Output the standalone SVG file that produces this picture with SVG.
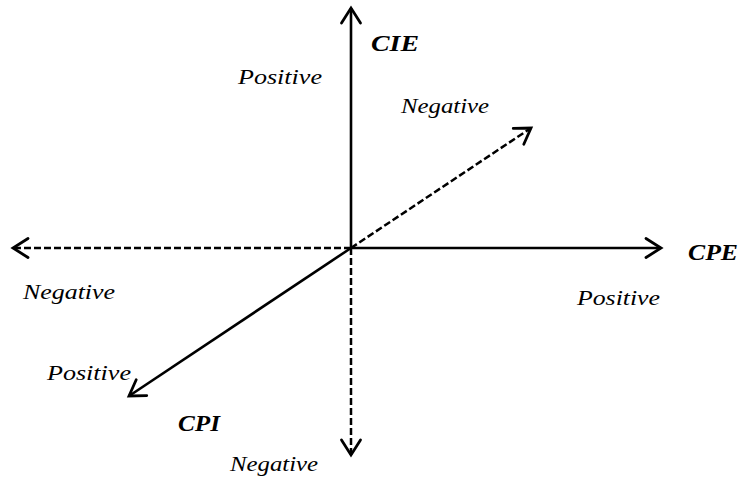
<svg xmlns="http://www.w3.org/2000/svg" width="739" height="482" viewBox="0 0 739 482">
<defs>
<style>
.ax{fill:none;stroke:#000;stroke-width:2.6}
.dash{stroke-width:2.5;stroke-dasharray:7 3}
</style>
<marker id="ah" markerUnits="userSpaceOnUse" markerWidth="30" markerHeight="30" viewBox="-20 -15 25 30" refX="0" refY="0" orient="auto" overflow="visible">
<path d="M -15 -9.5 L 0 0 L -15 9.5" fill="none" stroke="#000" stroke-width="2.8" stroke-linecap="round" stroke-linejoin="miter"/>
</marker>
</defs>
<rect width="739" height="482" fill="#fff"/>
<g id="connectors">
<line id="cie-axis" class="ax" x1="351" y1="248" x2="351" y2="8" marker-end="url(#ah)"/>
<line id="cpe-axis" class="ax" x1="351" y1="248" x2="661" y2="248" marker-end="url(#ah)"/>
<line id="neg-cpe" class="ax dash" x1="351" y1="248" x2="13" y2="248" marker-end="url(#ah)"/>
<line id="neg-cie" class="ax dash" x1="351" y1="248" x2="351" y2="455" marker-end="url(#ah)"/>
<line id="neg-cpi" class="ax dash" x1="351" y1="248" x2="531" y2="128" marker-end="url(#ah)"/>
<line id="cpi-axis" class="ax" x1="351" y1="248" x2="129" y2="396" marker-end="url(#ah)"/>
</g>
<g font-family="Liberation Serif, serif" font-style="italic" fill="#000">
<g id="cie"><text font-weight="bold" font-size="24" x="371" y="51" textLength="48" lengthAdjust="spacingAndGlyphs">CIE</text></g>
<g id="cpe"><text font-weight="bold" font-size="24" x="688" y="260" textLength="50" lengthAdjust="spacingAndGlyphs">CPE</text></g>
<g id="cpi"><text font-weight="bold" font-size="24" x="178" y="431" textLength="42" lengthAdjust="spacingAndGlyphs">CPI</text></g>
<g id="pos-cie"><text font-size="22" x="238" y="84" textLength="84" lengthAdjust="spacingAndGlyphs">Positive</text></g>
<g id="neg-cpi-lbl"><text font-size="22" x="401" y="113" textLength="88" lengthAdjust="spacingAndGlyphs">Negative</text></g>
<g id="neg-cpe-lbl"><text font-size="22" x="23" y="299" textLength="92" lengthAdjust="spacingAndGlyphs">Negative</text></g>
<g id="pos-cpe"><text font-size="22" x="577" y="305" textLength="83" lengthAdjust="spacingAndGlyphs">Positive</text></g>
<g id="pos-cpi"><text font-size="22" x="47" y="380" textLength="84" lengthAdjust="spacingAndGlyphs">Positive</text></g>
<g id="neg-cie-lbl"><text font-size="22" x="230" y="471" textLength="88" lengthAdjust="spacingAndGlyphs">Negative</text></g>
</g>
</svg>
